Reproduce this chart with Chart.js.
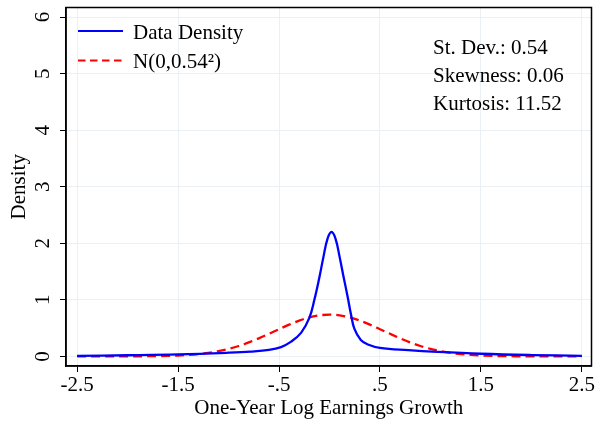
<!DOCTYPE html>
<html>
<head>
<meta charset="utf-8">
<script src="https://cdn.jsdelivr.net/npm/chart.js@4.4.0/dist/chart.umd.min.js"></script>
<style>
  html, body { margin: 0; padding: 0; background: #fff; }
  #wrap { width: 595px; height: 424px; }
</style>
</head>
<body>
<div id="wrap"><canvas id="densityChart" width="595" height="424"></canvas></div>
<script>
// Values
const normalX = [-2.5, -2.4, -2.3, -2.2, -2.1, -2.0, -1.9, -1.8, -1.7, -1.6, -1.5, -1.4, -1.3, -1.2, -1.1, -1.0,
  -0.9, -0.8, -0.7, -0.6, -0.5, -0.4, -0.3, -0.2, -0.1, 0.0, 0.1, 0.2, 0.3, 0.4, 0.5, 0.6, 0.7, 0.8, 0.9,
  1.0, 1.1, 1.2, 1.3, 1.4, 1.5, 1.6, 1.7, 1.8, 1.9, 2.0, 2.1, 2.2, 2.3, 2.4, 2.5];
const normalY = [0, 0, 0, 0, 0, 0.001, 0.001, 0.003, 0.005, 0.009, 0.016, 0.026, 0.041, 0.063, 0.093, 0.133,
  0.184, 0.247, 0.319, 0.399, 0.481, 0.562, 0.633, 0.690, 0.726, 0.739, 0.726, 0.690, 0.633, 0.562, 0.481,
  0.399, 0.319, 0.247, 0.184, 0.133, 0.093, 0.063, 0.041, 0.026, 0.016, 0.009, 0.005, 0.003, 0.001, 0.001,
  0, 0, 0, 0, 0];

const dataX = [-2.5, -2.0, -1.5, -1.0, -0.78, -0.6, -0.48, -0.38, -0.28, -0.2, -0.15, -0.1, -0.06, -0.02, 0.02,
  0.06, 0.10, 0.14, 0.18, 0.213, 0.246, 0.31, 0.38, 0.5, 0.78, 1.07, 1.5, 2.0, 2.5];
const dataY = [0.01, 0.02, 0.035, 0.065, 0.085, 0.115, 0.165, 0.26, 0.42, 0.68, 1.0, 1.40, 1.76, 2.08, 2.20,
  2.08, 1.76, 1.40, 1.05, 0.74, 0.49, 0.29, 0.21, 0.15, 0.11, 0.08, 0.047, 0.024, 0.01];

const xTicks = [-2.5, -1.5, -0.5, 0.5, 1.5, 2.5];
const xTickLabels = ['-2.5', '-1.5', '-.5', '.5', '1.5', '2.5'];
const yTicks = [0, 1, 2, 3, 4, 5, 6];

const seriesLabels = ['Data Density', 'N(0,0.54\u00B2)'];
const statLines = ['St. Dev.: 0.54', 'Skewness: 0.06', 'Kurtosis: 11.52'];

const serif = "'Times New Roman', 'Liberation Serif', serif";
const gridColor = '#eaf0f3';

// no extra room for the edge labels, the plot box fills the canvas like the reference
function noEdgePadding(s) {
    s.paddingTop = 0;
    s.paddingBottom = 0;
    s.paddingLeft = 0;
    s.paddingRight = 0;
}

// frame box, legend inside the plot and the stats text
const overlayPlugin = {
    id: 'overlay',
    afterDraw(chart) {
        const ctx = chart.ctx;
        const a = chart.chartArea;
        ctx.save();
        ctx.strokeStyle = '#000';
        ctx.lineWidth = 1.5;
        ctx.strokeRect(a.left, a.top, a.right - a.left, a.bottom - a.top);

        ctx.font = '21px ' + serif;
        ctx.fillStyle = '#000';
        ctx.textBaseline = 'alphabetic';
        ctx.textAlign = 'left';

        chart.data.datasets.forEach((ds, i) => {
            const y = 31 + i * 29.5;
            ctx.beginPath();
            ctx.strokeStyle = ds.borderColor;
            ctx.lineWidth = 2;
            ctx.setLineDash(ds.borderDash ? [7.5, 4.5] : []);
            ctx.moveTo(78, y);
            ctx.lineTo(123, y);
            ctx.stroke();
            ctx.setLineDash([]);
            ctx.fillText(ds.label, 133, y + 7.5);
        });

        statLines.forEach((t, i) => {
            ctx.fillText(t, 433, 54 + i * 28);
        });
        ctx.restore();
    }
};

const ctx = document.getElementById('densityChart').getContext('2d');
new Chart(ctx, {
    type: 'line',
    data: {
        datasets: [{
            label: seriesLabels[0],
            data: dataX.map((x, i) => ({ x: x, y: dataY[i] })),
            borderColor: '#0000ff',
            borderWidth: 2.3,
            pointRadius: 0,
            tension: 0.4,
            fill: false
        }, {
            label: seriesLabels[1],
            data: normalX.map((x, i) => ({ x: x, y: normalY[i] })),
            borderColor: '#ff0000',
            borderWidth: 2.3,
            borderDash: [9, 5],
            pointRadius: 0,
            cubicInterpolationMode: 'monotone',
            fill: false
        }]
    },
    options: {
        responsive: false,
        animation: false,
        layout: { padding: { top: 7.5, right: 3.5, left: 0, bottom: 0 } },
        plugins: {
            legend: { display: false },
            tooltip: { enabled: false }
        },
        scales: {
            x: {
                type: 'linear',
                min: -2.61,
                max: 2.595,
                afterBuildTicks: (s) => { s.ticks = xTicks.map(v => ({ value: v })); },
                afterFit: (s) => { s.height = 58; noEdgePadding(s); },
                ticks: {
                    autoSkip: false,
                    maxRotation: 0,
                    padding: 1,
                    color: '#000',
                    font: { family: serif, size: 21 },
                    callback: (v) => xTickLabels[xTicks.indexOf(v)]
                },
                grid: { color: gridColor, tickColor: '#000', tickLength: 6, lineWidth: 1 },
                border: { display: true, color: '#000', width: 1.5 },
                title: {
                    display: true,
                    text: 'One-Year Log Earnings Growth',
                    color: '#000',
                    font: { family: serif, size: 21 },
                    padding: { top: 0, bottom: 3 }
                }
            },
            y: {
                type: 'linear',
                min: -0.17,
                max: 6.17,
                afterBuildTicks: (s) => { s.ticks = yTicks.map(v => ({ value: v })); },
                afterFit: (s) => { s.width = 66; noEdgePadding(s); },
                ticks: {
                    minRotation: 90,
                    maxRotation: 90,
                    crossAlign: 'center',
                    padding: 11,
                    color: '#000',
                    font: { family: serif, size: 21 }
                },
                grid: { color: gridColor, tickColor: '#000', tickLength: 6, lineWidth: 1 },
                border: { display: true, color: '#000', width: 1.5 },
                title: {
                    display: true,
                    text: 'Density',
                    color: '#000',
                    font: { family: serif, size: 21 },
                    padding: { top: 7, bottom: 0 }
                }
            }
        }
    },
    plugins: [overlayPlugin]
});
</script>
</body>
</html>
